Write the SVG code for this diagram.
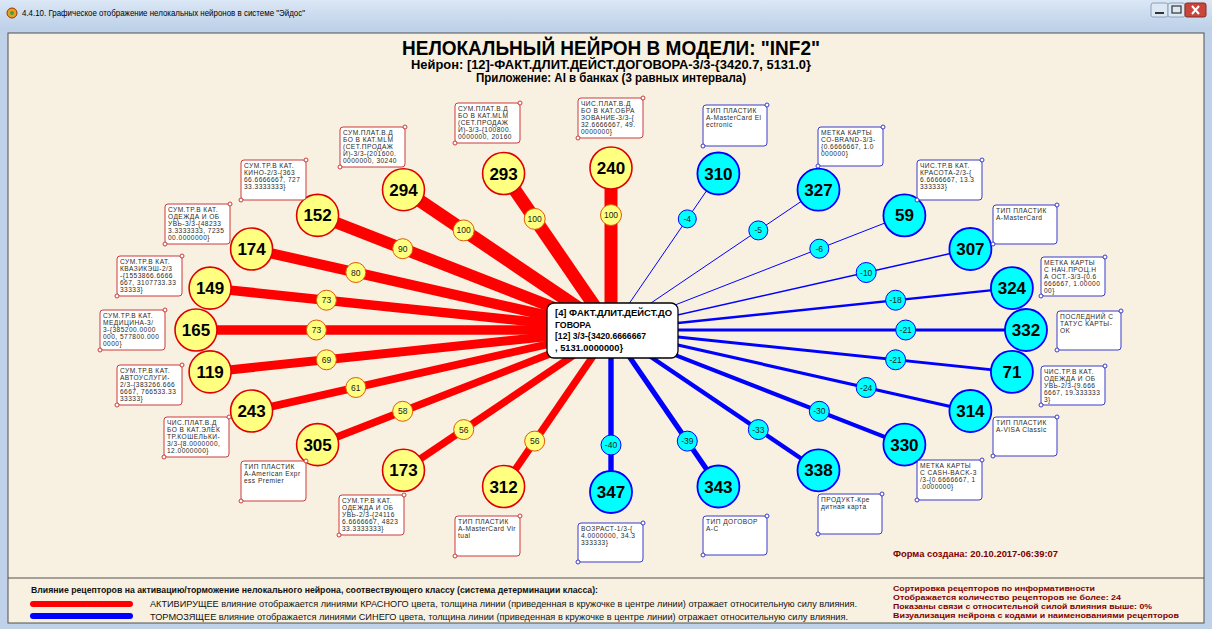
<svg xmlns="http://www.w3.org/2000/svg" width="1212" height="629" viewBox="0 0 1212 629">
<defs>
<linearGradient id="tb" x1="0" y1="0" x2="0" y2="1"><stop offset="0" stop-color="#dbe7f5"/><stop offset="1" stop-color="#bcd0e8"/></linearGradient>
<style>
.lr{stroke:#ff0000;fill:none}
.lb{stroke:#0000ff;fill:none}
.br{fill:#ffff80;stroke:#e05a00;stroke-width:1}
.bb{fill:#00ffff;stroke:#0000ff;stroke-width:1}
.bt{font-family:"Liberation Sans",Arial,sans-serif;font-size:8.5px;fill:#222;text-anchor:middle}
.nr .c{fill:#ffff80;stroke:#e00000;stroke-width:1.6}
.nb .c{fill:#00ffff;stroke:#0000ff;stroke-width:1.8}
.num{font-family:"Liberation Sans",Arial,sans-serif;font-weight:bold;font-size:17px;fill:#000;text-anchor:middle}
.nr .bx{fill:#fff;stroke:#cc3a3a;stroke-width:1}
.nb .bx{fill:#fff;stroke:#3a3acc;stroke-width:1}
.nr .d{fill:#fff;stroke:#cc3a3a;stroke-width:1}
.nb .d{fill:#fff;stroke:#3a3acc;stroke-width:1}
.lt{font-family:"Liberation Sans",Arial,sans-serif;font-size:6.6px;letter-spacing:0.45px;fill:#2a2a2a}
.ttl{font-family:"Liberation Sans",Arial,sans-serif;font-weight:bold;fill:#000;text-anchor:middle}
.leg{font-family:"Liberation Sans",Arial,sans-serif;font-size:9.5px;fill:#111}
.inf{font-family:"Liberation Sans",Arial,sans-serif;font-weight:bold;font-size:9.5px;fill:#800000}
.inf2{font-family:"Liberation Sans",Arial,sans-serif;font-weight:bold;font-size:7.6px;fill:#800000}
</style>
</defs>
<!-- window frame -->
<rect x="0" y="0" width="1212" height="629" fill="#bfd2ea"/>
<rect x="0" y="0" width="1212" height="30" fill="url(#tb)"/>
<circle cx="12" cy="13" r="5" fill="#e8a020" stroke="#a03000" stroke-width="1"/>
<circle cx="12" cy="13" r="2" fill="#40a040"/>
<text x="22" y="16" font-family="Liberation Sans, Arial, sans-serif" font-size="8.5" fill="#000" textLength="283" lengthAdjust="spacingAndGlyphs">4.4.10. Графическое отображение нелокальных нейронов в системе "Эйдос"</text>
<rect x="1151" y="3" width="17" height="14" rx="2" fill="#dde8f5" stroke="#8aa0bc"/>
<rect x="1168" y="3" width="17" height="14" rx="2" fill="#dde8f5" stroke="#8aa0bc"/>
<rect x="1185" y="3" width="21" height="14" rx="2" fill="#c9463d" stroke="#8a2a20"/>
<line x1="1155" y1="13" x2="1164" y2="13" stroke="#333" stroke-width="2"/>
<rect x="1172" y="6" width="9" height="7" fill="none" stroke="#333" stroke-width="1.2"/>
<path d="M1192 6 L1199 14 M1199 6 L1192 14" stroke="#fff" stroke-width="2"/>
<rect x="8" y="33" width="1196" height="590" fill="#f8f1e1" stroke="#505050" stroke-width="1"/>
<line x1="8" y1="578" x2="1204" y2="578" stroke="#505050" stroke-width="1"/>

<!-- titles -->
<text class="ttl" x="611" y="55" font-size="20" textLength="418" lengthAdjust="spacingAndGlyphs">НЕЛОКАЛЬНЫЙ НЕЙРОН В МОДЕЛИ: "INF2"</text>
<text class="ttl" x="611" y="68.5" font-size="12" textLength="400" lengthAdjust="spacingAndGlyphs">Нейрон: [12]-ФАКТ.ДЛИТ.ДЕЙСТ.ДОГОВОРА-3/3-{3420.7, 5131.0}</text>
<text class="ttl" x="611" y="82" font-size="12" textLength="270" lengthAdjust="spacingAndGlyphs">Приложение: AI в банках (3 равных интервала)</text>

<!-- connectors -->
<g id="connectors">
<line class="lr" x1="611" y1="330" x2="611" y2="168" stroke-width="13"/>
<line class="lr" x1="611" y1="330" x2="503.6" y2="173.5" stroke-width="13"/>
<line class="lr" x1="611" y1="330" x2="403.5" y2="189.7" stroke-width="13"/>
<line class="lr" x1="611" y1="330" x2="317.6" y2="215.4" stroke-width="11.7"/>
<line class="lr" x1="611" y1="330" x2="251.6" y2="249" stroke-width="10.4"/>
<line class="lr" x1="611" y1="330" x2="210.1" y2="288.1" stroke-width="9.5"/>
<line class="lr" x1="611" y1="330" x2="196" y2="330" stroke-width="9.5"/>
<line class="lr" x1="611" y1="330" x2="210.1" y2="371.9" stroke-width="9"/>
<line class="lr" x1="611" y1="330" x2="251.6" y2="411" stroke-width="7.9"/>
<line class="lr" x1="611" y1="330" x2="317.6" y2="444.6" stroke-width="7.5"/>
<line class="lr" x1="611" y1="330" x2="403.5" y2="470.3" stroke-width="7.3"/>
<line class="lr" x1="611" y1="330" x2="503.6" y2="486.5" stroke-width="7.3"/>
<line class="lb" x1="611" y1="330" x2="611" y2="492" stroke-width="5.4"/>
<line class="lb" x1="611" y1="330" x2="718.4" y2="486.5" stroke-width="5.2"/>
<line class="lb" x1="611" y1="330" x2="818.5" y2="470.3" stroke-width="4.4"/>
<line class="lb" x1="611" y1="330" x2="904.4" y2="444.6" stroke-width="4"/>
<line class="lb" x1="611" y1="330" x2="970.4" y2="411" stroke-width="3.2"/>
<line class="lb" x1="611" y1="330" x2="1011.9" y2="371.9" stroke-width="2.8"/>
<line class="lb" x1="611" y1="330" x2="1026" y2="330" stroke-width="2.8"/>
<line class="lb" x1="611" y1="330" x2="1011.9" y2="288.1" stroke-width="2.4"/>
<line class="lb" x1="611" y1="330" x2="970.4" y2="249" stroke-width="1.5"/>
<line class="lb" x1="611" y1="330" x2="904.4" y2="215.4" stroke-width="1"/>
<line class="lb" x1="611" y1="330" x2="818.5" y2="189.7" stroke-width="1"/>
<line class="lb" x1="611" y1="330" x2="718.4" y2="173.5" stroke-width="1"/>
<!-- weight badges -->
<circle class="br" cx="611" cy="215" r="10.5"/><text class="bt" x="611" y="218">100</text>
<circle class="br" cx="534.7" cy="218.9" r="10.5"/><text class="bt" x="534.7" y="221.9">100</text>
<circle class="br" cx="463.7" cy="230.4" r="10.5"/><text class="bt" x="463.7" y="233.4">100</text>
<circle class="br" cx="402.7" cy="248.7" r="10"/><text class="bt" x="402.7" y="251.7">90</text>
<circle class="br" cx="355.8" cy="272.5" r="10"/><text class="bt" x="355.8" y="275.5">80</text>
<circle class="br" cx="326.4" cy="300.2" r="10"/><text class="bt" x="326.4" y="303.2">73</text>
<circle class="br" cx="316.4" cy="330" r="10"/><text class="bt" x="316.4" y="333">73</text>
<circle class="br" cx="326.4" cy="359.8" r="10"/><text class="bt" x="326.4" y="362.8">69</text>
<circle class="br" cx="355.8" cy="387.5" r="10"/><text class="bt" x="355.8" y="390.5">61</text>
<circle class="br" cx="402.7" cy="411.3" r="10"/><text class="bt" x="402.7" y="414.3">58</text>
<circle class="br" cx="463.7" cy="429.6" r="10"/><text class="bt" x="463.7" y="432.6">56</text>
<circle class="br" cx="534.7" cy="441.1" r="10"/><text class="bt" x="534.7" y="444.1">56</text>
<circle class="bb" cx="611" cy="445" r="10"/><text class="bt" x="611" y="448">-40</text>
<circle class="bb" cx="687.3" cy="441.1" r="10"/><text class="bt" x="687.3" y="444.1">-39</text>
<circle class="bb" cx="758.3" cy="429.6" r="10"/><text class="bt" x="758.3" y="432.6">-33</text>
<circle class="bb" cx="819.3" cy="411.3" r="10"/><text class="bt" x="819.3" y="414.3">-30</text>
<circle class="bb" cx="866.2" cy="387.5" r="10"/><text class="bt" x="866.2" y="390.5">-24</text>
<circle class="bb" cx="895.6" cy="359.8" r="10"/><text class="bt" x="895.6" y="362.8">-21</text>
<circle class="bb" cx="905.7" cy="330" r="10"/><text class="bt" x="905.7" y="333">-21</text>
<circle class="bb" cx="895.6" cy="300.2" r="10"/><text class="bt" x="895.6" y="303.2">-18</text>
<circle class="bb" cx="866.2" cy="272.5" r="10"/><text class="bt" x="866.2" y="275.5">-10</text>
<circle class="bb" cx="819.3" cy="248.7" r="9.5"/><text class="bt" x="819.3" y="251.7">-6</text>
<circle class="bb" cx="758.3" cy="230.4" r="9.5"/><text class="bt" x="758.3" y="233.4">-5</text>
<circle class="bb" cx="687.3" cy="218.9" r="9"/><text class="bt" x="687.3" y="221.9">-4</text>
</g>

<!-- red nodes -->
<g id="n240" class="nr"><circle class="c" cx="611" cy="168" r="21"/><text class="num" x="611" y="174">240</text>
<rect class="bx" x="578" y="98" width="65" height="40" rx="3"/><circle class="d" cx="643" cy="98" r="2"/><circle class="d" cx="578" cy="138" r="2"/>
<text class="lt" y="106"><tspan x="581">ЧИС.ПЛАТ.В.Д</tspan><tspan x="581" dy="7">БО В КАТ.ОБРА</tspan><tspan x="581" dy="7">ЗОВАНИЕ-3/3-{</tspan><tspan x="581" dy="7">32.6666667, 49.</tspan><tspan x="581" dy="7">0000000}</tspan></text></g>

<g id="n293" class="nr"><circle class="c" cx="503.6" cy="173.5" r="21"/><text class="num" x="503.6" y="179.5">293</text>
<rect class="bx" x="455" y="103" width="65" height="40" rx="3"/><circle class="d" cx="520" cy="103" r="2"/><circle class="d" cx="455" cy="143" r="2"/>
<text class="lt" y="111"><tspan x="458">СУМ.ПЛАТ.В.Д</tspan><tspan x="458" dy="7">БО В КАТ.MLM</tspan><tspan x="458" dy="7">(СЕТ.ПРОДАЖ</tspan><tspan x="458" dy="7">И)-3/3-{100800.</tspan><tspan x="458" dy="7">0000000, 20160</tspan></text></g>

<g id="n294" class="nr"><circle class="c" cx="403.5" cy="189.7" r="21"/><text class="num" x="403.5" y="195.7">294</text>
<rect class="bx" x="340" y="127" width="65" height="40" rx="3"/><circle class="d" cx="405" cy="127" r="2"/><circle class="d" cx="340" cy="167" r="2"/>
<text class="lt" y="135"><tspan x="343">СУМ.ПЛАТ.В.Д</tspan><tspan x="343" dy="7">БО В КАТ.MLM</tspan><tspan x="343" dy="7">(СЕТ.ПРОДАЖ</tspan><tspan x="343" dy="7">И)-3/3-{201600.</tspan><tspan x="343" dy="7">0000000, 30240</tspan></text></g>

<g id="n152" class="nr"><circle class="c" cx="317.6" cy="215.4" r="21"/><text class="num" x="317.6" y="221.4">152</text>
<rect class="bx" x="241" y="160" width="65" height="40" rx="3"/><circle class="d" cx="306" cy="160" r="2"/><circle class="d" cx="241" cy="200" r="2"/>
<text class="lt" y="168"><tspan x="244">СУМ.ТР.В КАТ.</tspan><tspan x="244" dy="7">КИНО-2/3-{363</tspan><tspan x="244" dy="7">66.6666667, 727</tspan><tspan x="244" dy="7">33.3333333}</tspan></text></g>

<g id="n174" class="nr"><circle class="c" cx="251.6" cy="249" r="21"/><text class="num" x="251.6" y="255">174</text>
<rect class="bx" x="165" y="204" width="65" height="40" rx="3"/><circle class="d" cx="230" cy="204" r="2"/><circle class="d" cx="165" cy="244" r="2"/>
<text class="lt" y="212"><tspan x="168">СУМ.ТР.В КАТ.</tspan><tspan x="168" dy="7">ОДЕЖДА И ОБ</tspan><tspan x="168" dy="7">УВЬ-3/3-{48233</tspan><tspan x="168" dy="7">3.3333333, 7235</tspan><tspan x="168" dy="7">00.0000000}</tspan></text></g>

<g id="n149" class="nr"><circle class="c" cx="210.1" cy="288.1" r="21"/><text class="num" x="210.1" y="294.1">149</text>
<rect class="bx" x="117" y="256" width="65" height="40" rx="3"/><circle class="d" cx="182" cy="256" r="2"/><circle class="d" cx="117" cy="296" r="2"/>
<text class="lt" y="264"><tspan x="120">СУМ.ТР.В КАТ.</tspan><tspan x="120" dy="7">КВАЗИКЭШ-2/3</tspan><tspan x="120" dy="7">-{1553866.6666</tspan><tspan x="120" dy="7">667, 3107733.33</tspan><tspan x="120" dy="7">33333}</tspan></text></g>

<g id="n165" class="nr"><circle class="c" cx="196" cy="330" r="21"/><text class="num" x="196" y="336">165</text>
<rect class="bx" x="100" y="310" width="65" height="40" rx="3"/><circle class="d" cx="165" cy="310" r="2"/><circle class="d" cx="100" cy="350" r="2"/>
<text class="lt" y="318"><tspan x="103">СУМ.ТР.В КАТ.</tspan><tspan x="103" dy="7">МЕДИЦИНА-3/</tspan><tspan x="103" dy="7">3-{385200.0000</tspan><tspan x="103" dy="7">000, 577800.000</tspan><tspan x="103" dy="7">0000}</tspan></text></g>

<g id="n119" class="nr"><circle class="c" cx="210.1" cy="371.9" r="21"/><text class="num" x="210.1" y="377.9">119</text>
<rect class="bx" x="117" y="365" width="65" height="40" rx="3"/><circle class="d" cx="182" cy="365" r="2"/><circle class="d" cx="117" cy="405" r="2"/>
<text class="lt" y="373"><tspan x="120">СУМ.ТР.В КАТ.</tspan><tspan x="120" dy="7">АВТОУСЛУГИ-</tspan><tspan x="120" dy="7">2/3-{383266.666</tspan><tspan x="120" dy="7">6667, 766533.33</tspan><tspan x="120" dy="7">33333}</tspan></text></g>

<g id="n243" class="nr"><circle class="c" cx="251.6" cy="411" r="21"/><text class="num" x="251.6" y="417">243</text>
<rect class="bx" x="164" y="417" width="65" height="40" rx="3"/><circle class="d" cx="229" cy="417" r="2"/><circle class="d" cx="164" cy="457" r="2"/>
<text class="lt" y="425"><tspan x="167">ЧИС.ПЛАТ.В.Д</tspan><tspan x="167" dy="7">БО В КАТ.ЭЛЕК</tspan><tspan x="167" dy="7">ТР.КОШЕЛЬКИ-</tspan><tspan x="167" dy="7">3/3-{8.0000000,</tspan><tspan x="167" dy="7">12.0000000}</tspan></text></g>

<g id="n305" class="nr"><circle class="c" cx="317.6" cy="444.6" r="21"/><text class="num" x="317.6" y="450.6">305</text>
<rect class="bx" x="241" y="461" width="65" height="40" rx="3"/><circle class="d" cx="306" cy="461" r="2"/><circle class="d" cx="241" cy="501" r="2"/>
<text class="lt" y="469"><tspan x="244">ТИП ПЛАСТИК</tspan><tspan x="244" dy="7">A-American Expr</tspan><tspan x="244" dy="7">ess Premier</tspan></text></g>

<g id="n173" class="nr"><circle class="c" cx="403.5" cy="470.3" r="21"/><text class="num" x="403.5" y="476.3">173</text>
<rect class="bx" x="339" y="495" width="65" height="40" rx="3"/><circle class="d" cx="404" cy="495" r="2"/><circle class="d" cx="339" cy="535" r="2"/>
<text class="lt" y="503"><tspan x="342">СУМ.ТР.В КАТ.</tspan><tspan x="342" dy="7">ОДЕЖДА И ОБ</tspan><tspan x="342" dy="7">УВЬ-2/3-{24116</tspan><tspan x="342" dy="7">6.6666667, 4823</tspan><tspan x="342" dy="7">33.3333333}</tspan></text></g>

<g id="n312" class="nr"><circle class="c" cx="503.6" cy="486.5" r="21"/><text class="num" x="503.6" y="492.5">312</text>
<rect class="bx" x="455" y="516" width="65" height="40" rx="3"/><circle class="d" cx="520" cy="516" r="2"/><circle class="d" cx="455" cy="556" r="2"/>
<text class="lt" y="524"><tspan x="458">ТИП ПЛАСТИК</tspan><tspan x="458" dy="7">A-MasterCard Vir</tspan><tspan x="458" dy="7">tual</tspan></text></g>

<!-- blue nodes -->
<g id="n310" class="nb"><circle class="c" cx="718.4" cy="173.5" r="21"/><text class="num" x="718.4" y="179.5">310</text>
<rect class="bx" x="703" y="105" width="64" height="41" rx="3"/><circle class="d" cx="767" cy="105" r="2"/><circle class="d" cx="703" cy="146" r="2"/>
<text class="lt" y="113"><tspan x="706">ТИП ПЛАСТИК</tspan><tspan x="706" dy="7">A-MasterCard El</tspan><tspan x="706" dy="7">ectronic</tspan></text></g>

<g id="n327" class="nb"><circle class="c" cx="818.5" cy="189.7" r="21"/><text class="num" x="818.5" y="195.7">327</text>
<rect class="bx" x="818" y="127" width="65" height="39" rx="3"/><circle class="d" cx="883" cy="127" r="2"/><circle class="d" cx="818" cy="166" r="2"/>
<text class="lt" y="135"><tspan x="821">МЕТКА КАРТЫ</tspan><tspan x="821" dy="7">CO-BRAND-3/3-</tspan><tspan x="821" dy="7">{0.6666667, 1.0</tspan><tspan x="821" dy="7">000000}</tspan></text></g>

<g id="n59" class="nb"><circle class="c" cx="904.4" cy="215.4" r="21"/><text class="num" x="904.4" y="221.4">59</text>
<rect class="bx" x="917" y="160" width="65" height="40" rx="3"/><circle class="d" cx="982" cy="160" r="2"/><circle class="d" cx="917" cy="200" r="2"/>
<text class="lt" y="168"><tspan x="920">ЧИС.ТР.В КАТ.</tspan><tspan x="920" dy="7">КРАСОТА-2/3-{</tspan><tspan x="920" dy="7">6.6666667, 13.3</tspan><tspan x="920" dy="7">333333}</tspan></text></g>

<g id="n307" class="nb"><circle class="c" cx="970.4" cy="249" r="21"/><text class="num" x="970.4" y="255">307</text>
<rect class="bx" x="993" y="205" width="64" height="39" rx="3"/><circle class="d" cx="1057" cy="205" r="2"/><circle class="d" cx="993" cy="244" r="2"/>
<text class="lt" y="213"><tspan x="996">ТИП ПЛАСТИК</tspan><tspan x="996" dy="7">A-MasterCard</tspan></text></g>

<g id="n324" class="nb"><circle class="c" cx="1011.9" cy="288.1" r="21"/><text class="num" x="1011.9" y="294.1">324</text>
<rect class="bx" x="1041" y="257" width="64" height="39" rx="3"/><circle class="d" cx="1105" cy="257" r="2"/><circle class="d" cx="1041" cy="296" r="2"/>
<text class="lt" y="265"><tspan x="1044">МЕТКА КАРТЫ</tspan><tspan x="1044" dy="7">С НАЧ.ПРОЦ.Н</tspan><tspan x="1044" dy="7">А ОСТ.-3/3-{0.6</tspan><tspan x="1044" dy="7">666667, 1.00000</tspan><tspan x="1044" dy="7">00}</tspan></text></g>

<g id="n332" class="nb"><circle class="c" cx="1026" cy="330" r="21"/><text class="num" x="1026" y="336">332</text>
<rect class="bx" x="1057" y="311" width="64" height="39" rx="3"/><circle class="d" cx="1121" cy="311" r="2"/><circle class="d" cx="1057" cy="350" r="2"/>
<text class="lt" y="319"><tspan x="1060">ПОСЛЕДНИЙ С</tspan><tspan x="1060" dy="7">ТАТУС КАРТЫ-</tspan><tspan x="1060" dy="7">OK</tspan></text></g>

<g id="n71" class="nb"><circle class="c" cx="1011.9" cy="371.9" r="21"/><text class="num" x="1011.9" y="377.9">71</text>
<rect class="bx" x="1041" y="366" width="64" height="39" rx="3"/><circle class="d" cx="1105" cy="366" r="2"/><circle class="d" cx="1041" cy="405" r="2"/>
<text class="lt" y="374"><tspan x="1044">ЧИС.ТР.В КАТ.</tspan><tspan x="1044" dy="7">ОДЕЖДА И ОБ</tspan><tspan x="1044" dy="7">УВЬ-2/3-{9.666</tspan><tspan x="1044" dy="7">6667, 19.333333</tspan><tspan x="1044" dy="7">3}</tspan></text></g>

<g id="n314" class="nb"><circle class="c" cx="970.4" cy="411" r="21"/><text class="num" x="970.4" y="417">314</text>
<rect class="bx" x="993" y="417" width="64" height="39" rx="3"/><circle class="d" cx="1057" cy="417" r="2"/><circle class="d" cx="993" cy="456" r="2"/>
<text class="lt" y="425"><tspan x="996">ТИП ПЛАСТИК</tspan><tspan x="996" dy="7">A-VISA Classic</tspan></text></g>

<g id="n330" class="nb"><circle class="c" cx="904.4" cy="444.6" r="21"/><text class="num" x="904.4" y="450.6">330</text>
<rect class="bx" x="917" y="460" width="65" height="40" rx="3"/><circle class="d" cx="982" cy="460" r="2"/><circle class="d" cx="917" cy="500" r="2"/>
<text class="lt" y="468"><tspan x="920">МЕТКА КАРТЫ</tspan><tspan x="920" dy="7">С CASH-BACK-3</tspan><tspan x="920" dy="7">/3-{0.6666667, 1</tspan><tspan x="920" dy="7">.0000000}</tspan></text></g>

<g id="n338" class="nb"><circle class="c" cx="818.5" cy="470.3" r="21"/><text class="num" x="818.5" y="476.3">338</text>
<rect class="bx" x="818" y="494" width="64" height="40" rx="3"/><circle class="d" cx="882" cy="494" r="2"/><circle class="d" cx="818" cy="534" r="2"/>
<text class="lt" y="502"><tspan x="821">ПРОДУКТ-Кре</tspan><tspan x="821" dy="7">дитная карта</tspan></text></g>

<g id="n343" class="nb"><circle class="c" cx="718.4" cy="486.5" r="21"/><text class="num" x="718.4" y="492.5">343</text>
<rect class="bx" x="703" y="516" width="64" height="39" rx="3"/><circle class="d" cx="767" cy="516" r="2"/><circle class="d" cx="703" cy="555" r="2"/>
<text class="lt" y="524"><tspan x="706">ТИП ДОГОВОР</tspan><tspan x="706" dy="7">А-С</tspan></text></g>

<g id="n347" class="nb"><circle class="c" cx="611" cy="492" r="21"/><text class="num" x="611" y="498">347</text>
<rect class="bx" x="578" y="523" width="65" height="39" rx="3"/><circle class="d" cx="643" cy="523" r="2"/><circle class="d" cx="578" cy="562" r="2"/>
<text class="lt" y="531"><tspan x="581">ВОЗРАСТ-1/3-{</tspan><tspan x="581" dy="7">4.0000000, 34.3</tspan><tspan x="581" dy="7">333333}</tspan></text></g>

<!-- hub -->
<g id="hub">
<rect x="547" y="303" width="131" height="55" rx="7" fill="#fff" stroke="#000" stroke-width="1.3"/>
<g font-family="Liberation Sans, Arial, sans-serif" font-weight="bold" font-size="9.5" fill="#000">
<text x="555" y="316" textLength="117" lengthAdjust="spacingAndGlyphs">[4] ФАКТ.ДЛИТ.ДЕЙСТ.ДО</text>
<text x="555" y="327.5" textLength="36" lengthAdjust="spacingAndGlyphs">ГОВОРА</text>
<text x="555" y="339" textLength="91" lengthAdjust="spacingAndGlyphs">[12] 3/3-{3420.6666667</text>
<text x="555" y="350.5" textLength="68" lengthAdjust="spacingAndGlyphs">, 5131.0000000}</text>
</g>
</g>

<!-- legend -->
<g id="legend">
<text class="inf" x="893" y="557" textLength="165" lengthAdjust="spacingAndGlyphs">Форма создана: 20.10.2017-06:39:07</text>
<text class="leg" x="31" y="593" font-weight="bold" textLength="567" lengthAdjust="spacingAndGlyphs">Влияние рецепторов на активацию/торможение нелокального нейрона, соотвествующего классу (система детерминации класса):</text>
<line x1="33" y1="604" x2="130" y2="604" stroke="#ff0000" stroke-width="6" stroke-linecap="round"/>
<line x1="33" y1="616" x2="130" y2="616" stroke="#0000ff" stroke-width="6" stroke-linecap="round"/>
<text class="leg" x="150" y="607" textLength="707" lengthAdjust="spacingAndGlyphs">АКТИВИРУЩЕЕ влияние отображается линиями КРАСНОГО цвета, толщина линии (приведенная в кружочке в центре линии) отражает относительную силу влияния.</text>
<text class="leg" x="150" y="619.5" textLength="698" lengthAdjust="spacingAndGlyphs">ТОРМОЗЯЩЕЕ влияние отображается линиями СИНЕГО цвета, толщина линии (приведенная в кружочке в центре линии) отражает относительную силу влияния.</text>
<text class="inf2" x="893" y="591" textLength="202" lengthAdjust="spacingAndGlyphs">Сортировка рецепторов по информативности</text>
<text class="inf2" x="893" y="600" textLength="228" lengthAdjust="spacingAndGlyphs">Отображается количество рецепторов не более: 24</text>
<text class="inf2" x="893" y="609" textLength="259" lengthAdjust="spacingAndGlyphs">Показаны связи с относительной силой влияния выше: 0%</text>
<text class="inf2" x="893" y="618" textLength="286" lengthAdjust="spacingAndGlyphs">Визуализация нейрона с кодами и наименованиями рецепторов</text>
</g>
</svg>
